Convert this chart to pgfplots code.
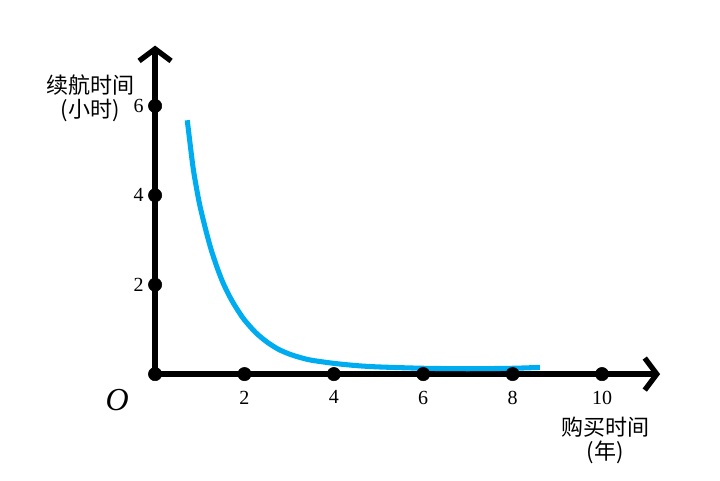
\documentclass[border=0pt]{standalone}
\usepackage{pgfplots}
\pgfplotsset{compat=1.18}
\usepackage{fontspec}
\setmainfont{Liberation Serif}
\newfontfamily\cjk{Noto Sans CJK SC}
\usetikzlibrary{arrows.meta}
\definecolor{curveblue}{RGB}{0,172,240}

\begin{document}
\begin{tikzpicture}
\begin{axis}[
    x=33.5pt, y=33.5pt,
    axis lines=middle,
    axis line style={line width=4.8pt, line cap=round, -{Straight Barb[length=9pt,width=24pt,line width=4pt]}},
    xmin=0, xmax=11.3,
    ymin=0, ymax=7.35,
    xtick={2,4,6,8,10},
    ytick={2,4,6},
    major tick length=0pt,
    /pgf/number format/assume math mode=true,
    tick label style={font=\fontsize{15}{18}\selectfont},
    xticklabel style={yshift=-9pt},
    yticklabel style={xshift=-5pt},
    clip=false,
]
\addplot[only marks, mark=*, mark size=5pt, black]
    coordinates {(0,0)(2,0)(4,0)(6,0)(8,0)(10,0)(0,2)(0,4)(0,6)};

% battery life (hours) against years since purchase
\addplot[smooth, line width=3.8pt, curveblue]
    coordinates {
    (0.72,5.68)(0.78,5.18)(0.85,4.62)(0.92,4.20)(1.0,3.78)(1.125,3.26)(1.25,2.80)
    (1.375,2.42)(1.5,2.09)(1.625,1.82)(1.75,1.59)(1.875,1.39)(2.0,1.21)(2.25,0.93)
    (2.5,0.72)(2.75,0.56)(3.0,0.45)(3.25,0.37)(3.5,0.31)(4.0,0.24)(4.5,0.19)
    (5.0,0.16)(6.0,0.13)(7.0,0.12)(8.0,0.13)(8.61,0.15)
    };

\node[font=\fontsize{24}{24}\selectfont\itshape] at (axis cs:-0.85,-0.58) {O};
\node[font=\cjk\fontsize{16.5}{18}\selectfont, align=center] at (axis cs:-1.45,6.17)
    {续航时间\\ (小时)};
\node[font=\cjk\fontsize{16.5}{18}\selectfont, align=center] at (axis cs:10.07,-1.48)
    {购买时间\\ (年)};

\coordinate (bl) at (axis cs:-3.47,-2.37);
\coordinate (tr) at (axis cs:12.64,8.37);
\end{axis}
\path (bl) rectangle (tr);
\end{tikzpicture}
\end{document}
